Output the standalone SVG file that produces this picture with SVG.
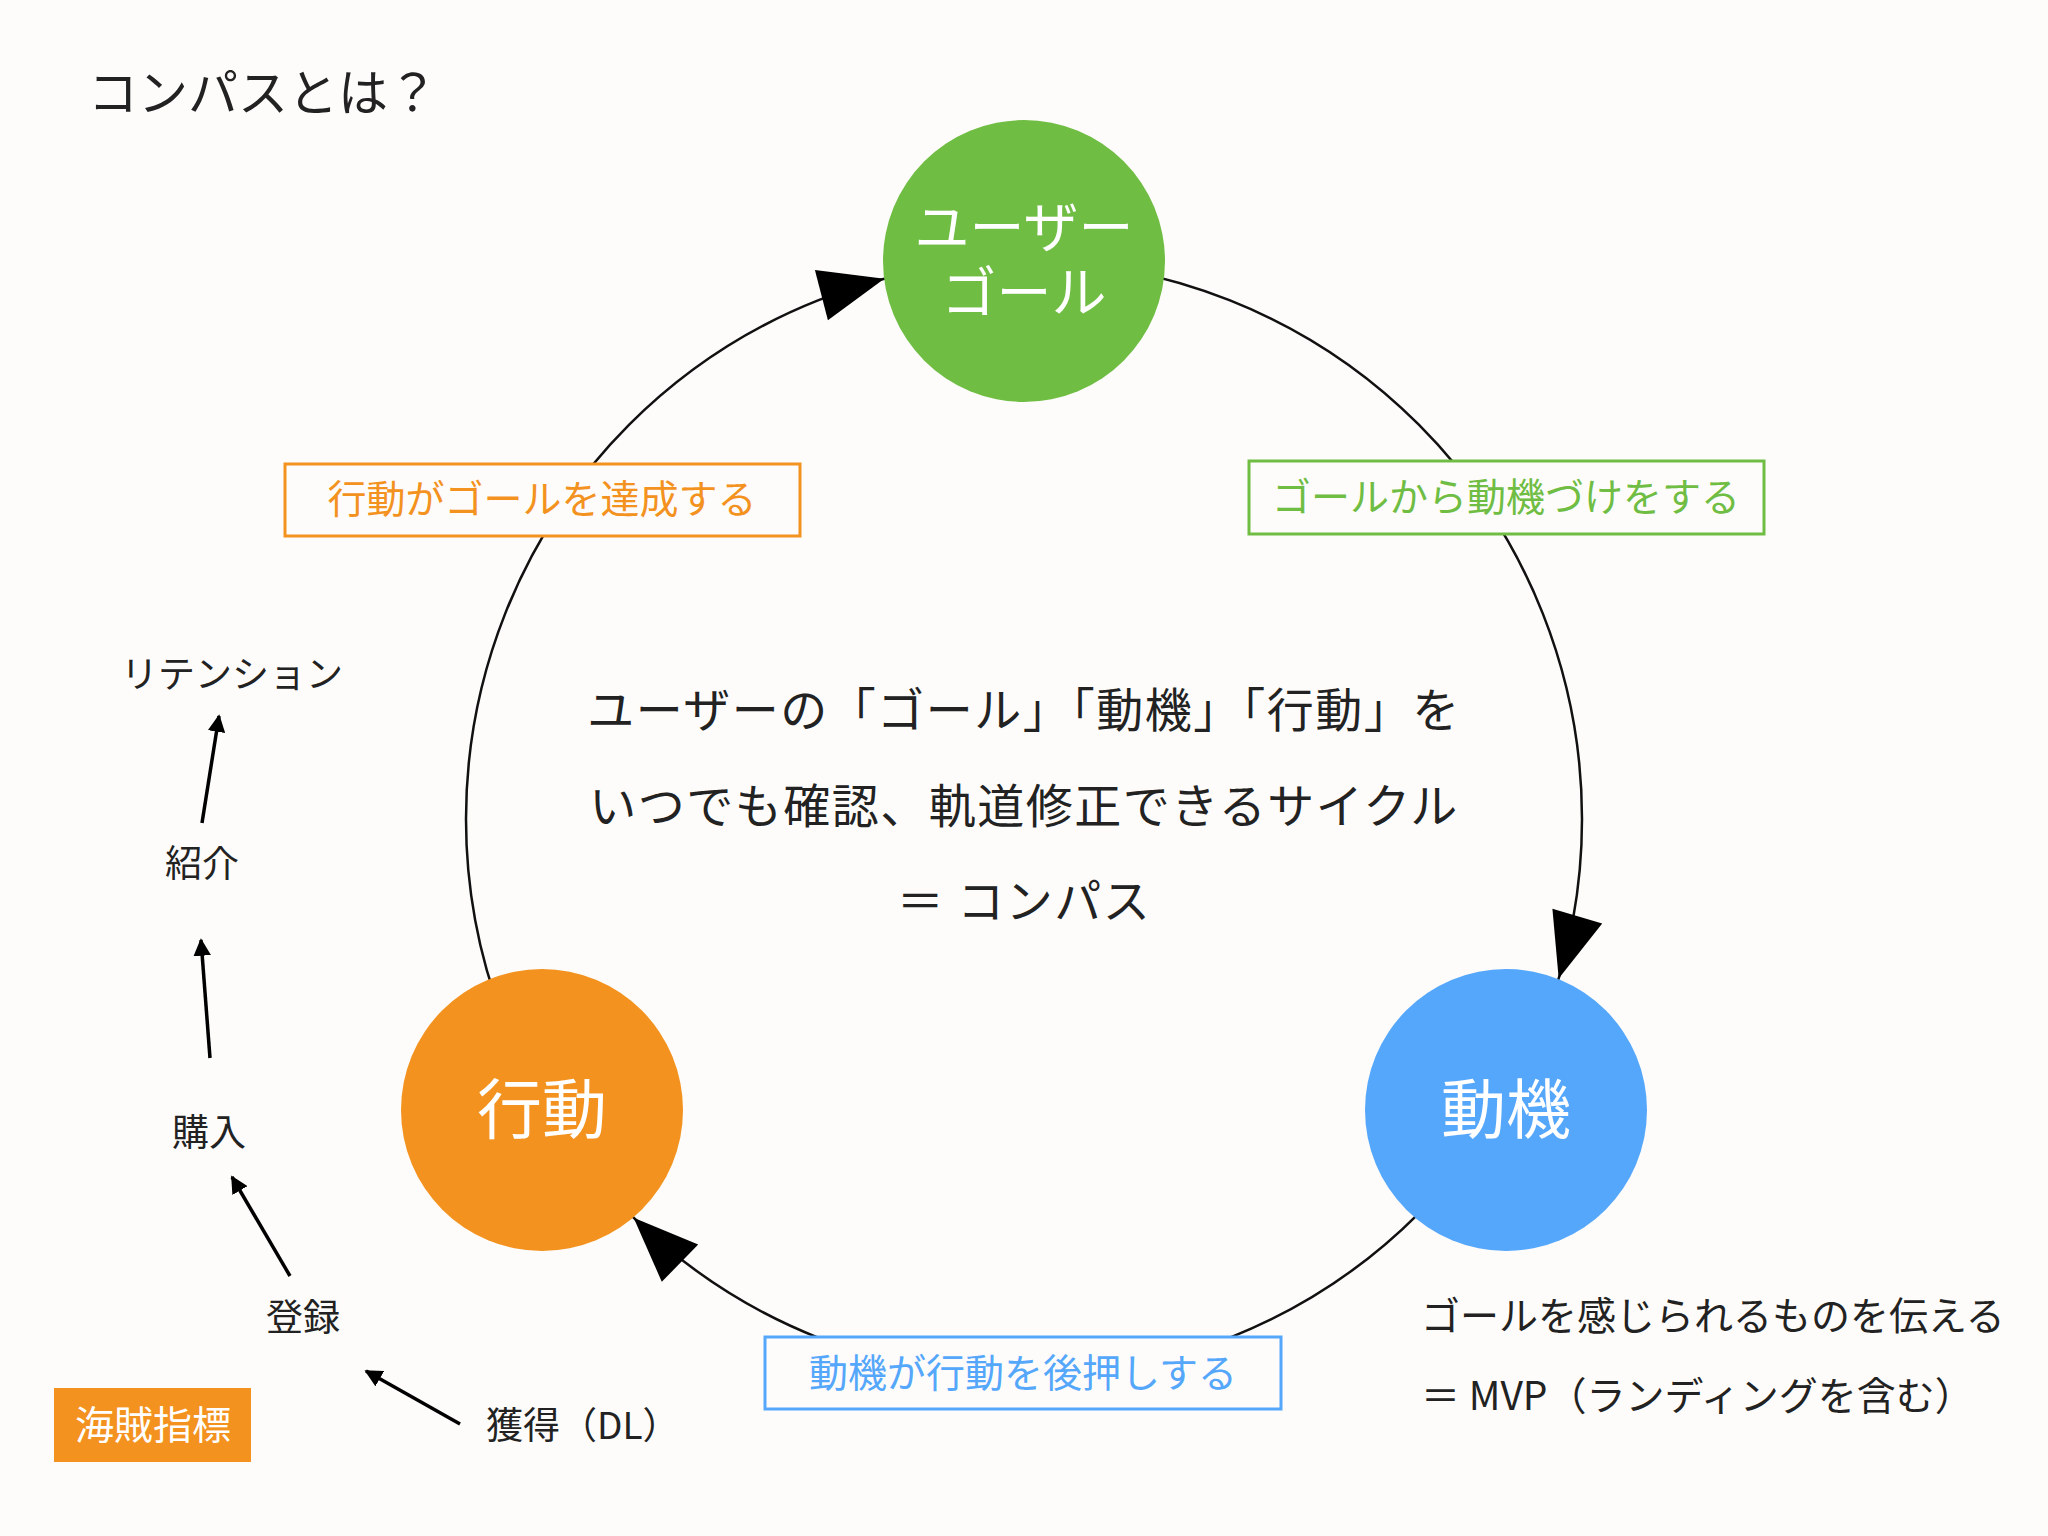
<svg xmlns="http://www.w3.org/2000/svg" width="2048" height="1536" viewBox="0 0 2048 1536">
<defs>
<style>
text{font-family:"Noto Sans CJK JP","Noto Sans",sans-serif;}
.c{text-anchor:middle}
.w{fill:#fff}
.k{fill:#222}
.lbl{font-size:39px}
.box{fill:#fdfcfa;stroke-width:3}
</style>
<marker id="ah" viewBox="0 0 10 10" refX="9" refY="5" markerWidth="5" markerHeight="5" orient="auto"><path d="M0,0L10,5L0,10z" fill="#000"/></marker>
</defs>
<rect width="2048" height="1536" fill="#fdfcfa"/>
<text x="88" y="111" font-size="50" class="k">コンパスとは？</text>
<g id="connectors">
<circle cx="1024" cy="819" r="558" fill="none" stroke="#111" stroke-width="2.5"/>
<polygon points="884.3,278.8 827.9,320.3 814.9,269.9" fill="#000"/>
<polygon points="1558.7,978.4 1602.2,923.5 1552.4,908.7" fill="#000"/>
<polygon points="633.6,1217.7 661.8,1281.8 698.2,1244.6" fill="#000"/>
<g stroke="#000" stroke-width="3.5" marker-end="url(#ah)">
<line x1="202" y1="823" x2="219" y2="716"/>
<line x1="210" y1="1058" x2="201" y2="940"/>
<line x1="290" y1="1276" x2="232" y2="1177"/>
<line x1="460" y1="1424" x2="366" y2="1371"/>
</g>
</g>
<g id="goal"><circle cx="1024" cy="261" r="141" fill="#70bd44"/>
<text x="1024" y="247" font-size="55" class="c w">ユーザー</text>
<text x="1024" y="312" font-size="55" class="c w">ゴール</text></g>
<g id="action"><circle cx="542" cy="1110" r="141" fill="#f3921f"/>
<text x="542" y="1133" font-size="65" class="c w">行動</text></g>
<g id="motive"><circle cx="1506" cy="1110" r="141" fill="#55a7fb"/>
<text x="1506" y="1133" font-size="65" class="c w">動機</text></g>
<g id="label-achieve"><rect x="285" y="464" width="515" height="72" class="box" stroke="#f3921f"/>
<text x="542" y="513" class="c lbl" fill="#f3921f">行動がゴールを達成する</text></g>
<g id="label-motivate"><rect x="1249" y="461" width="515" height="73" class="box" stroke="#70bd44"/>
<text x="1506" y="511" class="c lbl" fill="#70bd44">ゴールから動機づけをする</text></g>
<g id="label-push"><rect x="765" y="1337" width="516" height="72" class="box" stroke="#55a7fb"/>
<text x="1023" y="1387" class="c lbl" fill="#55a7fb">動機が行動を後押しする</text></g>
<g id="center-text" class="k" font-size="47" letter-spacing="1.5">
<text x="1024" y="727" class="c">ユーザーの「ゴール」「動機」「行動」を</text>
<text x="1024" y="823" class="c">いつでも確認、軌道修正できるサイクル</text>
<text x="1024" y="918" class="c">＝ コンパス</text></g>
<g id="mvp" class="k lbl">
<text x="1421" y="1330">ゴールを感じられるものを伝える</text>
<text x="1421" y="1410">＝ MVP（ランディングを含む）</text></g>
<g id="funnel" class="k" font-size="37">
<text x="232" y="688" class="c">リテンション</text>
<text x="202" y="877" class="c">紹介</text>
<text x="209" y="1146" class="c">購入</text>
<text x="303" y="1331" class="c">登録</text>
<text x="486" y="1439">獲得（DL）</text></g>
<g id="badge"><rect x="54" y="1388" width="197" height="74" fill="#f3921f"/>
<text x="153" y="1439" font-size="39" class="c w">海賊指標</text></g>
</svg>
